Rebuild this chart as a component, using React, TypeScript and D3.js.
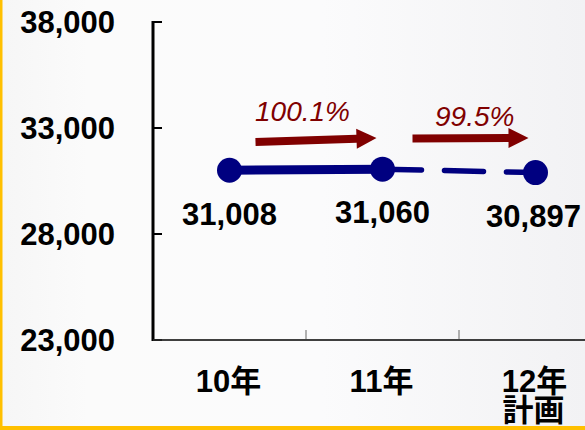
import React from "react";
import * as d3 from "d3";

const categories = ["10年", "11年", "12年"];
const categorySubLabels = ["", "", "計画"];
const values = [31008, 31060, 30897];
const valueLabels = ["31,008", "31,060", "30,897"];
const yTicks = [23000, 28000, 33000, 38000];
const ratioLabels = ["100.1%", "99.5%"];

const W = 585;
const H = 430;
const FONT = "'Liberation Sans', Arial, 'Noto Sans CJK JP', sans-serif";
const NAVY = "#000080";
const DARKRED = "#800000";

export default function App() {
  const x = d3.scaleBand<string>().domain(categories).range([153, 612]);
  const cx = (i: number) => (x(categories[i]) as number) + x.bandwidth() / 2;
  const y = d3.scaleLinear().domain([23000, 38000]).range([340, 22]);
  const fmt = d3.format(",");

  const solid = d3
    .line<number>()
    .x((_, i) => cx(i))
    .y((d) => y(d))(values.slice(0, 2)) as string;
  const dashed = d3
    .line<number>()
    .x((_, i) => cx(i + 1))
    .y((d) => y(d))(values.slice(1, 3)) as string;

  const arrow = (x0: number, y0: number, x1: number, y1: number) => {
    const headLen = 20;
    const shaftHalf = 4;
    const headHalf = 10;
    const ang = Math.atan2(y1 - y0, x1 - x0);
    const ux = Math.cos(ang), uy = Math.sin(ang);
    const px = -uy, py = ux;
    const bx = x1 - ux * headLen, by = y1 - uy * headLen;
    const pts = [
      [x0 + px * shaftHalf, y0 + py * shaftHalf],
      [bx + px * shaftHalf, by + py * shaftHalf],
      [bx + px * headHalf, by + py * headHalf],
      [x1, y1],
      [bx - px * headHalf, by - py * headHalf],
      [bx - px * shaftHalf, by - py * shaftHalf],
      [x0 - px * shaftHalf, y0 - py * shaftHalf],
    ];
    return pts.map((p) => p.join(",")).join(" ");
  };

  const arrows = [
    { x0: cx(0) + 26, y0: 142, x1: cx(1) - 6, y1: 138, tx: 255, ty: 121 },
    { x0: cx(1) + 30, y0: 138.5, x1: cx(2) - 7, y1: 138, tx: 435, ty: 126 },
  ];
  const labelDy = [55, 54, 54];

  return (
    <svg
      width={W}
      height={H}
      style={{ position: "absolute", left: 0, top: 0 }}
      fontFamily={FONT}
    >
      <defs>
        <linearGradient id="bg" x1="0" y1="0" x2="1" y2="0">
          <stop offset="0" stopColor="#f6f6f6" />
          <stop offset="0.15" stopColor="#fbfbfb" />
          <stop offset="0.55" stopColor="#fbfbfc" />
          <stop offset="1" stopColor="#f2f2f4" />
        </linearGradient>
      </defs>
      <rect x={0} y={0} width={W} height={H} fill="url(#bg)" />
      {/* yellow frame */}
      <rect x={0} y={0} width={2.5} height={H} fill="#FFC000" />
      <rect x={0} y={426} width={W} height={4} fill="#FFC000" />

      {/* y axis */}
      <line x1={153} y1={y(38000) - 1} x2={153} y2={341} stroke="#000" strokeWidth={3} />
      {yTicks.map((t) => (
        <g key={t}>
          <line
            x1={153}
            x2={162}
            y1={y(t)}
            y2={y(t)}
            stroke={t === 23000 ? "#888" : "#000"}
            strokeWidth={2}
          />
          <text
            x={115}
            y={y(t)}
            dy="0.36em"
            textAnchor="end"
            fontSize={31}
            fontWeight="bold"
            fill="#000"
          >
            {fmt(t)}
          </text>
        </g>
      ))}

      {/* x axis */}
      <line x1={153} x2={W} y1={340} y2={340} stroke="#000" strokeWidth={1.5} />
      {categories.slice(1).map((c) => (
        <line
          key={c}
          x1={x(c) as number}
          x2={x(c) as number}
          y1={330}
          y2={339}
          stroke="#999"
          strokeWidth={1.5}
        />
      ))}
      {categories.map((c, i) => (
        <g key={c}>
          <text
            x={cx(i) - 1}
            y={392}
            textAnchor="middle"
            fontSize={31}
            fontWeight="bold"
            fill="#000"
          >
            {c}
          </text>
          {categorySubLabels[i] && (
            <text
              x={cx(i) - 2}
              y={421}
              textAnchor="middle"
              fontSize={31}
              fontWeight="bold"
              fill="#000"
            >
              {categorySubLabels[i]}
            </text>
          )}
        </g>
      ))}

      {/* arrows */}
      {arrows.map((a, i) => (
        <g key={i}>
          <polygon points={arrow(a.x0, a.y0, a.x1, a.y1)} fill={DARKRED} />
          <text
            x={a.tx}
            y={a.ty}
            fontSize={28}
            fontStyle="italic"
            fill={DARKRED}
          >
            {ratioLabels[i]}
          </text>
        </g>
      ))}

      {/* line */}
      <path d={solid} fill="none" stroke={NAVY} strokeWidth={9} />
      <path
        d={dashed}
        fill="none"
        stroke={NAVY}
        strokeWidth={5.5}
        strokeDasharray="39 23"
        strokeLinecap="round"
      />
      {values.map((v, i) => (
        <circle key={i} cx={cx(i)} cy={y(v)} r={12.5} fill={NAVY} />
      ))}
      {values.map((v, i) => (
        <text
          key={i}
          x={cx(i) - (i === 2 ? 2 : 0)}
          y={y(v) + labelDy[i]}
          textAnchor="middle"
          fontSize={31}
          fontWeight="bold"
          fill="#000"
        >
          {valueLabels[i]}
        </text>
      ))}
    </svg>
  );
}
